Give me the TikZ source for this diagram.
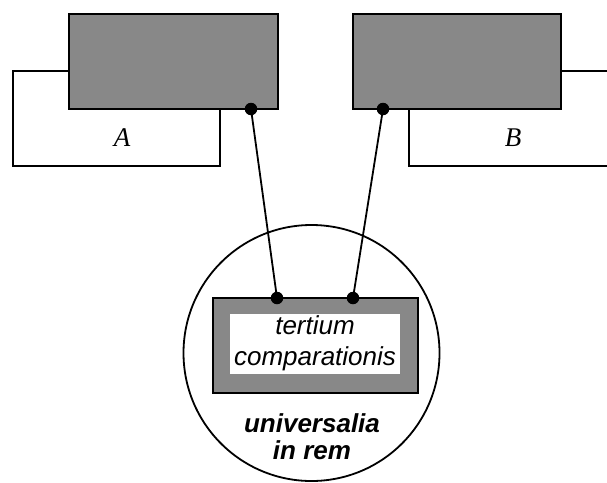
\documentclass[tikz,border=0pt]{standalone}
\usepackage{fontspec}
\setmainfont{Liberation Serif}
\setsansfont{Liberation Sans}
\begin{document}
\begin{tikzpicture}[x=1pt,y=-1pt,
  lw/.style={line width=1.8pt},
  graybox/.style={draw, lw, fill=boxgray, inner sep=0pt, rectangle},
  whitebox/.style={draw, lw, fill=white, inner sep=0pt, rectangle},
  dot/.style={circle, fill=black, inner sep=0pt, minimum size=12.5pt},
  thinglabel/.style={font=\fontsize{27}{30}\selectfont\itshape},
  sanslabel/.style={font=\fontsize{26}{31}\selectfont\sffamily\itshape, align=center},
  sansbold/.style={font=\fontsize{26}{27}\selectfont\sffamily\bfseries\itshape, align=center}
]
\definecolor{boxgray}{RGB}{136,136,136}
\useasboundingbox (0,0) rectangle (607,482);

% thing A: white frame behind a grey block
\node[whitebox, minimum width=207pt, minimum height=95pt] (frameA) at (116.5,118.5) {};
\node[graybox, minimum width=209pt, minimum height=95pt] (blockA) at (173.5,61.5) {};
\node[thinglabel] (labA) at (122,138) {A};

% thing B: grey block with a frame running off to the right
\node[graybox, minimum width=208pt, minimum height=95pt] (blockB) at (457,61.5) {};
\coordinate (frameBtop) at (607,71);
\coordinate (frameBbl) at (409,166);
\coordinate (frameBbr) at (607,166);
\draw[lw] (blockB.east |- frameBtop) -- (frameBtop);
\draw[lw] (frameBbl |- blockB.south) -- (frameBbl) -- (frameBbr);
\node[thinglabel] (labB) at (513,138) {B};

% the universal in the things
\node[draw, lw, circle, minimum size=256pt, inner sep=0pt] (univ) at (311.5,353) {};
\node[graybox, minimum width=205pt, minimum height=95pt] (tertium) at (315.5,345.5) {};
\node[fill=white, minimum width=170pt, minimum height=60pt, inner sep=0pt] (tertiumin) at (315,344) {};
\node[sanslabel] (tertiumtxt) at (315,343) {tertium\\comparationis};
\node[sansbold] (inrem) at (312,437) {universalia\\in rem};

% links from both things to the common term
\node[dot] (dA) at (251,109) {};
\node[dot] (dB) at (383,109) {};
\node[dot] (dtA) at (277,298) {};
\node[dot] (dtB) at (353,298) {};
\draw[lw] (dA.center) -- (dtA.center);
\draw[lw] (dB.center) -- (dtB.center);
\end{tikzpicture}
\end{document}
